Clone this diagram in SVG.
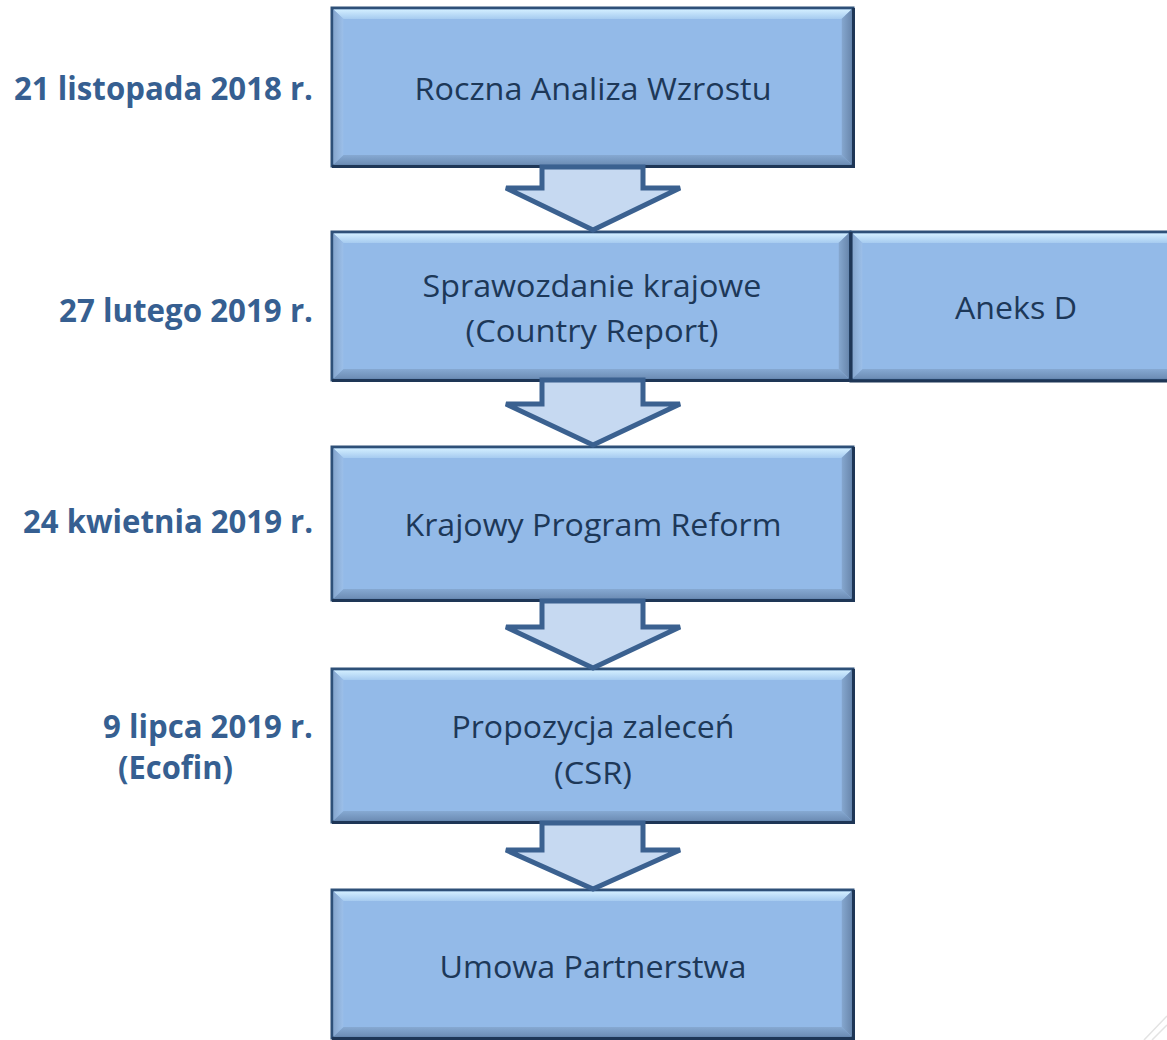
<svg xmlns="http://www.w3.org/2000/svg" width="1167" height="1040" viewBox="0 0 1167 1040">
<defs>
<linearGradient id="gTop" x1="0" y1="0" x2="0" y2="1"><stop offset="0" stop-color="#D2EEFF"/><stop offset="1" stop-color="#A6CBF0"/></linearGradient>
<linearGradient id="gBot" x1="0" y1="0" x2="0" y2="1"><stop offset="0" stop-color="#86A9D2"/><stop offset="1" stop-color="#6D8DB5"/></linearGradient>
<linearGradient id="gLeft" x1="0" y1="0" x2="1" y2="0"><stop offset="0" stop-color="#86A6CD"/><stop offset="1" stop-color="#9CC0EA"/></linearGradient>
<linearGradient id="gRight" x1="0" y1="0" x2="1" y2="0"><stop offset="0" stop-color="#86A8D0"/><stop offset="1" stop-color="#6A88AE"/></linearGradient>
</defs>
<style>
.box{fill:#93BAE8;stroke:#2E5078;stroke-width:3}
.bt{fill:url(#gTop)}
.bb{fill:url(#gBot)}
.bl{fill:url(#gLeft)}
.br{fill:url(#gRight)}
.edge{fill:none;stroke:#1E3656;stroke-width:3}
.arrow{fill:#C6D9F1;stroke:#3B6190;stroke-width:5;stroke-linejoin:miter}
.t{font-family:"Open Sans","Liberation Sans",sans-serif;font-size:31px;fill:#1D3858;text-anchor:middle}
.d{font-family:"Open Sans","Liberation Sans",sans-serif;font-size:32px;font-weight:bold;fill:#365F91;text-anchor:end}
.faint{fill:none;stroke:#E3E3E3;stroke-width:1.5}
</style>
<rect width="1167" height="1040" fill="#FFFFFF"/>
<path class="faint" d="M1144 1040 L1167 1016 M1152 1040 L1167 1025"/>

<g id="labels">
<text class="d" x="313" y="100" textLength="299" lengthAdjust="spacingAndGlyphs">21 listopada 2018 r.</text>
<text class="d" x="313" y="322" textLength="254" lengthAdjust="spacingAndGlyphs">27 lutego 2019 r.</text>
<text class="d" x="313" y="533" textLength="290" lengthAdjust="spacingAndGlyphs">24 kwietnia 2019 r.</text>
<text class="d" x="313" y="738" textLength="210" lengthAdjust="spacingAndGlyphs">9 lipca 2019 r.</text>
<text class="d" x="233" y="779" textLength="115" lengthAdjust="spacingAndGlyphs">(Ecofin)</text>
</g>

<g id="n1">
<rect class="box" x="332" y="8" width="521" height="158"/>
<polygon class="bt" points="333.5,9.5 851.5,9.5 841.5,19 343.5,19"/>
<polygon class="bl" points="333.5,9.5 343.5,19 343.5,155 333.5,164.5"/>
<polygon class="br" points="851.5,9.5 851.5,164.5 841.5,155 841.5,19"/>
<polygon class="bb" points="333.5,164.5 343.5,155 841.5,155 851.5,164.5"/>
<rect fill="#93BAE8" x="343.5" y="19" width="498" height="136"/>
<path class="edge" d="M332 166.5 H853.5 V8"/>
<text class="t" x="593" y="100" textLength="357" lengthAdjust="spacingAndGlyphs">Roczna Analiza Wzrostu</text>
</g>

<g id="n2">
<rect class="box" x="332" y="232" width="518" height="148"/>
<polygon class="bt" points="333.5,233.5 848.5,233.5 838.5,243 343.5,243"/>
<polygon class="bl" points="333.5,233.5 343.5,243 343.5,369 333.5,378.5"/>
<polygon class="br" points="848.5,233.5 848.5,378.5 838.5,369 838.5,243"/>
<polygon class="bb" points="333.5,378.5 343.5,369 838.5,369 848.5,378.5"/>
<rect fill="#93BAE8" x="343.5" y="243" width="495" height="126"/>
<path class="edge" d="M332 380.5 H850.5 V232"/>
<text class="t" x="592" y="297" textLength="339" lengthAdjust="spacingAndGlyphs">Sprawozdanie krajowe</text>
<text class="t" x="592" y="342" textLength="253" lengthAdjust="spacingAndGlyphs">(Country Report)</text>
</g>

<g id="n2b">
<rect class="box" x="851" y="232" width="330" height="148"/>
<polygon class="bt" points="852.5,233.5 1180,233.5 1170,243 862.5,243"/>
<polygon class="bl" points="852.5,233.5 862.5,243 862.5,369 852.5,378.5"/>
<polygon class="bb" points="852.5,378.5 862.5,369 1170,369 1180,378.5"/>
<rect fill="#93BAE8" x="862.5" y="243" width="310" height="126"/>
<path class="edge" d="M851 232 V381 H1167"/>
<text class="t" x="1016" y="319" textLength="122" lengthAdjust="spacingAndGlyphs">Aneks D</text>
</g>

<g id="n3">
<rect class="box" x="332" y="447" width="521" height="153"/>
<polygon class="bt" points="333.5,448.5 851.5,448.5 841.5,458 343.5,458"/>
<polygon class="bl" points="333.5,448.5 343.5,458 343.5,589 333.5,598.5"/>
<polygon class="br" points="851.5,448.5 851.5,598.5 841.5,589 841.5,458"/>
<polygon class="bb" points="333.5,598.5 343.5,589 841.5,589 851.5,598.5"/>
<rect fill="#93BAE8" x="343.5" y="458" width="498" height="131"/>
<path class="edge" d="M332 600.5 H853.5 V447"/>
<text class="t" x="593" y="536" textLength="377" lengthAdjust="spacingAndGlyphs">Krajowy Program Reform</text>
</g>

<g id="n4">
<rect class="box" x="332" y="669" width="521" height="153"/>
<polygon class="bt" points="333.5,670.5 851.5,670.5 841.5,680 343.5,680"/>
<polygon class="bl" points="333.5,670.5 343.5,680 343.5,811 333.5,820.5"/>
<polygon class="br" points="851.5,670.5 851.5,820.5 841.5,811 841.5,680"/>
<polygon class="bb" points="333.5,820.5 343.5,811 841.5,811 851.5,820.5"/>
<rect fill="#93BAE8" x="343.5" y="680" width="498" height="131"/>
<path class="edge" d="M332 822.5 H853.5 V669"/>
<text class="t" x="593" y="738" textLength="283" lengthAdjust="spacingAndGlyphs">Propozycja zaleceń</text>
<text class="t" x="593" y="784" textLength="78" lengthAdjust="spacingAndGlyphs">(CSR)</text>
</g>

<g id="n5">
<rect class="box" x="332" y="890" width="521" height="148"/>
<polygon class="bt" points="333.5,891.5 851.5,891.5 841.5,901 343.5,901"/>
<polygon class="bl" points="333.5,891.5 343.5,901 343.5,1027 333.5,1036.5"/>
<polygon class="br" points="851.5,891.5 851.5,1036.5 841.5,1027 841.5,901"/>
<polygon class="bb" points="333.5,1036.5 343.5,1027 841.5,1027 851.5,1036.5"/>
<rect fill="#93BAE8" x="343.5" y="901" width="498" height="126"/>
<path class="edge" d="M332 1038.5 H853.5 V890"/>
<text class="t" x="593" y="978" textLength="307" lengthAdjust="spacingAndGlyphs">Umowa Partnerstwa</text>
</g>

<g id="connectors">
<polygon class="arrow" points="542,167 643,167 643,188 680,188 593,230 506,188 542,188"/>
<polygon class="arrow" points="542,380 643,380 643,404 680,404 593,445 506,404 542,404"/>
<polygon class="arrow" points="542,601 643,601 643,627 680,627 593,668 506,627 542,627"/>
<polygon class="arrow" points="542,823 643,823 643,850 680,850 593,889 506,850 542,850"/>
</g>
</svg>
